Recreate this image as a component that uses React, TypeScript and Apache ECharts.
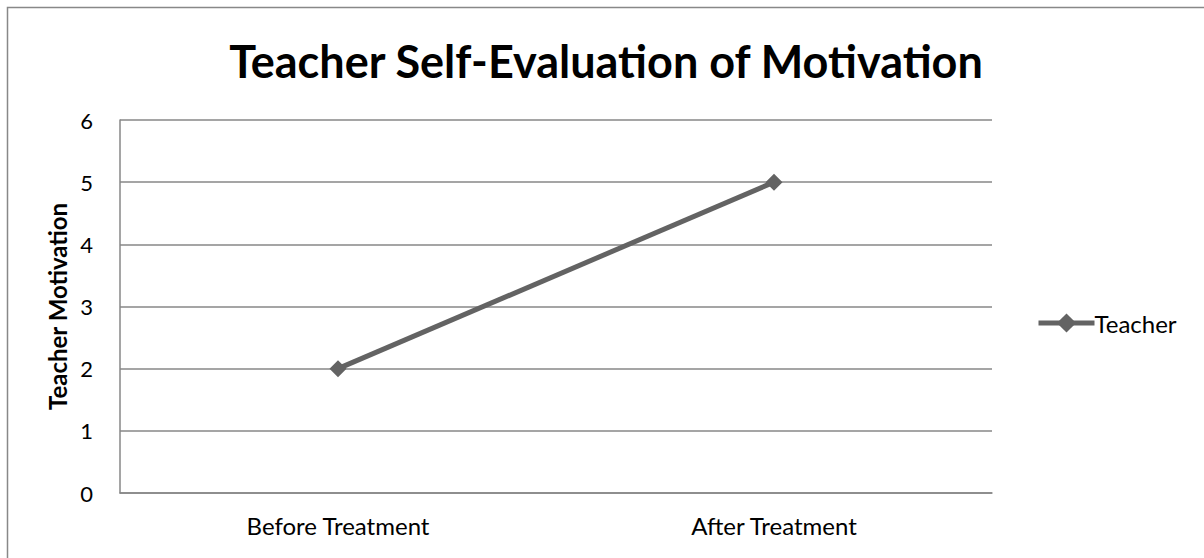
import React, { useEffect, useRef } from "react";
import * as echarts from "echarts";

const categories = ["Before Treatment", "After Treatment"];
const teacherValues = [2, 5];
const seriesName = "Teacher";
const titleText = "Teacher Self-Evaluation of Motivation";
const yAxisName = "Teacher Motivation";

const FONT = "Lato, 'Open Sans', sans-serif";
const GRAY = "#878787";
const LINE = "#636363";

export default function App() {
  const ref = useRef<HTMLDivElement>(null);
  useEffect(() => {
    if (!ref.current) return;
    const chart = echarts.init(ref.current, null, { renderer: "svg" });
    chart.setOption({
      animation: false,
      backgroundColor: "#ffffff",
      title: {
        text: titleText,
        left: 601,
        top: 33,
        textAlign: "center",
        textStyle: { fontFamily: FONT, fontWeight: "bold", fontSize: 45, color: "#000" },
      },
      legend: {
        data: [seriesName],
        left: 1031,
        top: 306,
        itemWidth: 56,
        itemHeight: 24,
        itemGap: 0,
        lineStyle: { width: 5, color: LINE },
        textStyle: { fontFamily: FONT, fontSize: 24, color: "#000", padding: [0, 0, 0, -5] },
      },
      graphic: [
        {
          type: "rect",
          shape: { x: 7.5, y: 7.5, width: 1300, height: 700 },
          style: { fill: "none", stroke: "#888888", lineWidth: 1.5 },
          silent: true,
        },
      ],
      grid: { left: 120, top: 120, right: 212, bottom: 65 },
      xAxis: {
        type: "category",
        data: categories,
        boundaryGap: true,
        axisLine: { lineStyle: { color: GRAY, width: 1.5 } },
        axisTick: { show: false },
        axisLabel: { fontFamily: FONT, fontSize: 24, color: "#000", margin: 20 },
      },
      yAxis: {
        type: "value",
        min: 0,
        max: 6,
        interval: 1,
        name: yAxisName,
        nameLocation: "middle",
        nameGap: 49,
        nameTextStyle: { fontFamily: FONT, fontWeight: "bold", fontSize: 24, color: "#000" },
        axisLine: { show: true, lineStyle: { color: GRAY, width: 1.5 } },
        axisTick: { show: false },
        splitLine: { lineStyle: { color: GRAY, width: 1.5 } },
        axisLabel: { fontFamily: FONT, fontSize: 22, color: "#000", margin: 27 },
      },
      series: [
        {
          name: seriesName,
          type: "line",
          data: teacherValues,
          symbol: "diamond",
          symbolSize: 17,
          lineStyle: { color: LINE, width: 5 },
          itemStyle: { color: LINE },
        },
      ],
    });
    return () => chart.dispose();
  }, []);
  return (
    <div
      ref={ref}
      style={{ position: "fixed", left: 0, top: 0, width: 1204, height: 558 }}
    />
  );
}
